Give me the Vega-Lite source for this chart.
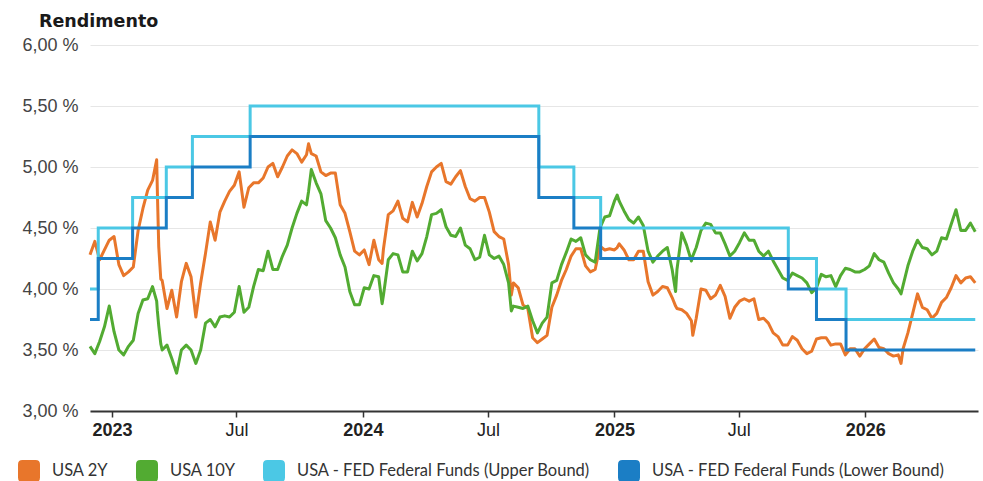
{
"$schema": "https://vega.github.io/schema/vega-lite/v6.json",
"width": 888,
"height": 366,
"autosize": {"type": "none"},
"padding": {"left": 90, "top": 45, "right": 5, "bottom": 70},
"background": "white",
"config": {"view": {"stroke": null}},
"title": {"text": "Rendimento", "anchor": "start", "frame": "group", "font": "DejaVu Sans", "fontSize": 17.5, "fontWeight": "bold", "color": "#1a1a1a", "dx": -51, "offset": 6},
"datasets": {
"yields": [
{"d":"2022-11-30","y2":4.28,"y10":3.53},
{"d":"2022-12-07","y2":4.39,"y10":3.47},
{"d":"2022-12-14","y2":4.24,"y10":3.57},
{"d":"2022-12-21","y2":4.32,"y10":3.69},
{"d":"2022-12-28","y2":4.40,"y10":3.86},
{"d":"2023-01-04","y2":4.43,"y10":3.65},
{"d":"2023-01-11","y2":4.20,"y10":3.50},
{"d":"2023-01-18","y2":4.11,"y10":3.46},
{"d":"2023-01-25","y2":4.14,"y10":3.53},
{"d":"2023-02-01","y2":4.18,"y10":3.58},
{"d":"2023-02-08","y2":4.48,"y10":3.80},
{"d":"2023-02-15","y2":4.66,"y10":3.91},
{"d":"2023-02-22","y2":4.81,"y10":3.92},
{"d":"2023-03-01","y2":4.89,"y10":4.02},
{"d":"2023-03-07","y2":5.06,"y10":3.90},
{"d":"2023-03-08","y2":4.80,"y10":3.82},
{"d":"2023-03-10","y2":4.35,"y10":3.70},
{"d":"2023-03-13","y2":4.08,"y10":3.55},
{"d":"2023-03-15","y2":4.07,"y10":3.50},
{"d":"2023-03-22","y2":3.84,"y10":3.54},
{"d":"2023-03-29","y2":3.99,"y10":3.43},
{"d":"2023-04-05","y2":3.77,"y10":3.31},
{"d":"2023-04-12","y2":4.06,"y10":3.50},
{"d":"2023-04-19","y2":4.21,"y10":3.54},
{"d":"2023-04-26","y2":4.10,"y10":3.50},
{"d":"2023-05-03","y2":3.77,"y10":3.39},
{"d":"2023-05-10","y2":4.05,"y10":3.50},
{"d":"2023-05-17","y2":4.29,"y10":3.72},
{"d":"2023-05-24","y2":4.55,"y10":3.75},
{"d":"2023-05-31","y2":4.40,"y10":3.69},
{"d":"2023-06-07","y2":4.63,"y10":3.77},
{"d":"2023-06-14","y2":4.72,"y10":3.78},
{"d":"2023-06-21","y2":4.80,"y10":3.77},
{"d":"2023-06-28","y2":4.85,"y10":3.81},
{"d":"2023-07-05","y2":4.96,"y10":4.02},
{"d":"2023-07-12","y2":4.67,"y10":3.81},
{"d":"2023-07-19","y2":4.83,"y10":3.85},
{"d":"2023-07-26","y2":4.87,"y10":4.02},
{"d":"2023-08-02","y2":4.87,"y10":4.16},
{"d":"2023-08-09","y2":4.91,"y10":4.15},
{"d":"2023-08-16","y2":5.00,"y10":4.31},
{"d":"2023-08-23","y2":5.03,"y10":4.16},
{"d":"2023-08-30","y2":4.92,"y10":4.16},
{"d":"2023-09-06","y2":5.00,"y10":4.27},
{"d":"2023-09-13","y2":5.09,"y10":4.36},
{"d":"2023-09-20","y2":5.14,"y10":4.50},
{"d":"2023-09-27","y2":5.11,"y10":4.62},
{"d":"2023-10-04","y2":5.04,"y10":4.72},
{"d":"2023-10-11","y2":5.10,"y10":4.69},
{"d":"2023-10-14","y2":5.19,"y10":4.80},
{"d":"2023-10-18","y2":5.11,"y10":4.98},
{"d":"2023-10-25","y2":5.09,"y10":4.87},
{"d":"2023-11-01","y2":4.96,"y10":4.78},
{"d":"2023-11-08","y2":4.93,"y10":4.56},
{"d":"2023-11-15","y2":4.95,"y10":4.50},
{"d":"2023-11-22","y2":4.95,"y10":4.42},
{"d":"2023-11-29","y2":4.69,"y10":4.28},
{"d":"2023-12-06","y2":4.62,"y10":4.18},
{"d":"2023-12-13","y2":4.47,"y10":3.98},
{"d":"2023-12-20","y2":4.31,"y10":3.87},
{"d":"2023-12-27","y2":4.28,"y10":3.87},
{"d":"2024-01-03","y2":4.32,"y10":4.01},
{"d":"2024-01-10","y2":4.20,"y10":4.00},
{"d":"2024-01-17","y2":4.40,"y10":4.11},
{"d":"2024-01-24","y2":4.24,"y10":4.10},
{"d":"2024-01-29","y2":4.21,"y10":3.88},
{"d":"2024-01-31","y2":4.33,"y10":3.95},
{"d":"2024-02-07","y2":4.61,"y10":4.24},
{"d":"2024-02-14","y2":4.64,"y10":4.29},
{"d":"2024-02-21","y2":4.72,"y10":4.28},
{"d":"2024-02-28","y2":4.58,"y10":4.14},
{"d":"2024-03-06","y2":4.55,"y10":4.14},
{"d":"2024-03-13","y2":4.71,"y10":4.31},
{"d":"2024-03-20","y2":4.59,"y10":4.23},
{"d":"2024-03-27","y2":4.70,"y10":4.29},
{"d":"2024-04-03","y2":4.84,"y10":4.43},
{"d":"2024-04-10","y2":4.96,"y10":4.61},
{"d":"2024-04-17","y2":5.00,"y10":4.62},
{"d":"2024-04-24","y2":5.03,"y10":4.65},
{"d":"2024-05-01","y2":4.88,"y10":4.51},
{"d":"2024-05-08","y2":4.86,"y10":4.44},
{"d":"2024-05-15","y2":4.92,"y10":4.43},
{"d":"2024-05-22","y2":4.97,"y10":4.50},
{"d":"2024-05-29","y2":4.84,"y10":4.36},
{"d":"2024-06-05","y2":4.74,"y10":4.33},
{"d":"2024-06-12","y2":4.72,"y10":4.24},
{"d":"2024-06-19","y2":4.75,"y10":4.26},
{"d":"2024-06-26","y2":4.75,"y10":4.44},
{"d":"2024-07-03","y2":4.63,"y10":4.28},
{"d":"2024-07-10","y2":4.47,"y10":4.25},
{"d":"2024-07-17","y2":4.43,"y10":4.27},
{"d":"2024-07-24","y2":4.41,"y10":4.20},
{"d":"2024-07-31","y2":4.20,"y10":4.05},
{"d":"2024-08-04","y2":3.95,"y10":3.82},
{"d":"2024-08-07","y2":4.05,"y10":3.86},
{"d":"2024-08-14","y2":4.01,"y10":3.85},
{"d":"2024-08-21","y2":3.87,"y10":3.84},
{"d":"2024-08-28","y2":3.84,"y10":3.86},
{"d":"2024-09-04","y2":3.60,"y10":3.74},
{"d":"2024-09-11","y2":3.56,"y10":3.64},
{"d":"2024-09-18","y2":3.59,"y10":3.72},
{"d":"2024-09-25","y2":3.62,"y10":3.77},
{"d":"2024-10-02","y2":3.85,"y10":4.05},
{"d":"2024-10-09","y2":3.95,"y10":4.07},
{"d":"2024-10-16","y2":4.07,"y10":4.20},
{"d":"2024-10-23","y2":4.16,"y10":4.30},
{"d":"2024-10-30","y2":4.27,"y10":4.41},
{"d":"2024-11-06","y2":4.33,"y10":4.39},
{"d":"2024-11-13","y2":4.33,"y10":4.42},
{"d":"2024-11-20","y2":4.19,"y10":4.28},
{"d":"2024-11-27","y2":4.14,"y10":4.24},
{"d":"2024-12-04","y2":4.16,"y10":4.22},
{"d":"2024-12-11","y2":4.35,"y10":4.50},
{"d":"2024-12-18","y2":4.32,"y10":4.59},
{"d":"2024-12-25","y2":4.33,"y10":4.60},
{"d":"2025-01-01","y2":4.32,"y10":4.72},
{"d":"2025-01-05","y2":4.34,"y10":4.77},
{"d":"2025-01-08","y2":4.37,"y10":4.72},
{"d":"2025-01-15","y2":4.32,"y10":4.64},
{"d":"2025-01-22","y2":4.24,"y10":4.57},
{"d":"2025-01-29","y2":4.24,"y10":4.54},
{"d":"2025-02-05","y2":4.31,"y10":4.59},
{"d":"2025-02-12","y2":4.31,"y10":4.52},
{"d":"2025-02-19","y2":4.06,"y10":4.31},
{"d":"2025-02-26","y2":3.95,"y10":4.22},
{"d":"2025-03-05","y2":3.98,"y10":4.27},
{"d":"2025-03-12","y2":4.02,"y10":4.31},
{"d":"2025-03-19","y2":4.01,"y10":4.34},
{"d":"2025-03-26","y2":3.93,"y10":4.16},
{"d":"2025-03-31","y2":3.86,"y10":3.98},
{"d":"2025-04-02","y2":3.84,"y10":4.16},
{"d":"2025-04-09","y2":3.83,"y10":4.46},
{"d":"2025-04-16","y2":3.80,"y10":4.36},
{"d":"2025-04-23","y2":3.74,"y10":4.23},
{"d":"2025-04-25","y2":3.62,"y10":4.27},
{"d":"2025-04-30","y2":3.76,"y10":4.34},
{"d":"2025-05-07","y2":4.00,"y10":4.48},
{"d":"2025-05-14","y2":3.99,"y10":4.54},
{"d":"2025-05-21","y2":3.92,"y10":4.53},
{"d":"2025-05-28","y2":3.95,"y10":4.46},
{"d":"2025-06-04","y2":4.03,"y10":4.46},
{"d":"2025-06-11","y2":3.94,"y10":4.37},
{"d":"2025-06-18","y2":3.76,"y10":4.27},
{"d":"2025-06-25","y2":3.85,"y10":4.31},
{"d":"2025-07-02","y2":3.90,"y10":4.38},
{"d":"2025-07-09","y2":3.92,"y10":4.46},
{"d":"2025-07-16","y2":3.90,"y10":4.40},
{"d":"2025-07-23","y2":3.92,"y10":4.40},
{"d":"2025-07-30","y2":3.75,"y10":4.31},
{"d":"2025-08-06","y2":3.76,"y10":4.27},
{"d":"2025-08-13","y2":3.72,"y10":4.31},
{"d":"2025-08-20","y2":3.64,"y10":4.23},
{"d":"2025-08-27","y2":3.61,"y10":4.16},
{"d":"2025-09-03","y2":3.54,"y10":4.09},
{"d":"2025-09-10","y2":3.54,"y10":4.07},
{"d":"2025-09-17","y2":3.61,"y10":4.13},
{"d":"2025-09-24","y2":3.58,"y10":4.11},
{"d":"2025-10-01","y2":3.51,"y10":4.09},
{"d":"2025-10-08","y2":3.47,"y10":4.05},
{"d":"2025-10-15","y2":3.49,"y10":3.97},
{"d":"2025-10-22","y2":3.59,"y10":4.01},
{"d":"2025-10-29","y2":3.60,"y10":4.12},
{"d":"2025-11-05","y2":3.60,"y10":4.10},
{"d":"2025-11-12","y2":3.54,"y10":4.11},
{"d":"2025-11-19","y2":3.55,"y10":4.02},
{"d":"2025-11-26","y2":3.55,"y10":4.11},
{"d":"2025-12-03","y2":3.46,"y10":4.17},
{"d":"2025-12-10","y2":3.51,"y10":4.16},
{"d":"2025-12-17","y2":3.51,"y10":4.14},
{"d":"2025-12-24","y2":3.45,"y10":4.14},
{"d":"2025-12-31","y2":3.51,"y10":4.16},
{"d":"2026-01-07","y2":3.55,"y10":4.19},
{"d":"2026-01-14","y2":3.59,"y10":4.29},
{"d":"2026-01-21","y2":3.52,"y10":4.24},
{"d":"2026-01-28","y2":3.51,"y10":4.22},
{"d":"2026-02-04","y2":3.47,"y10":4.13},
{"d":"2026-02-11","y2":3.45,"y10":4.05},
{"d":"2026-02-18","y2":3.46,"y10":4.00},
{"d":"2026-02-22","y2":3.39,"y10":3.96},
{"d":"2026-02-25","y2":3.51,"y10":4.03},
{"d":"2026-03-04","y2":3.64,"y10":4.19},
{"d":"2026-03-11","y2":3.80,"y10":4.31},
{"d":"2026-03-18","y2":3.96,"y10":4.40},
{"d":"2026-03-25","y2":3.85,"y10":4.34},
{"d":"2026-04-01","y2":3.83,"y10":4.33},
{"d":"2026-04-08","y2":3.76,"y10":4.28},
{"d":"2026-04-15","y2":3.80,"y10":4.31},
{"d":"2026-04-22","y2":3.89,"y10":4.42},
{"d":"2026-04-29","y2":3.93,"y10":4.41},
{"d":"2026-05-06","y2":4.01,"y10":4.53},
{"d":"2026-05-13","y2":4.11,"y10":4.65},
{"d":"2026-05-20","y2":4.05,"y10":4.48},
{"d":"2026-05-27","y2":4.09,"y10":4.48},
{"d":"2026-06-03","y2":4.10,"y10":4.54},
{"d":"2026-06-10","y2":4.05,"y10":4.47}
],
"fed": [
{"d":"2022-11-30","up":4.00,"lo":3.75},
{"d":"2022-12-12","up":4.50,"lo":4.25},
{"d":"2023-01-31","up":4.75,"lo":4.50},
{"d":"2023-03-21","up":5.00,"lo":4.75},
{"d":"2023-04-28","up":5.25,"lo":5.00},
{"d":"2023-07-21","up":5.50,"lo":5.25},
{"d":"2024-09-13","up":5.00,"lo":4.75},
{"d":"2024-11-03","up":4.75,"lo":4.50},
{"d":"2024-12-12","up":4.50,"lo":4.25},
{"d":"2025-09-11","up":4.25,"lo":4.00},
{"d":"2025-10-22","up":4.00,"lo":3.75},
{"d":"2025-12-04","up":3.75,"lo":3.50},
{"d":"2026-06-10","up":3.75,"lo":3.50}
]
},
"encoding": {
"x": {"field": "d", "type": "temporal",
 "scale": {"type": "utc", "domain": [{"year": 2022, "month": 11, "date": 30, "utc": true}, {"year": 2026, "month": 6, "date": 14, "utc": true}]},
 "axis": {"title": null, "grid": false, "tickCount": {"interval": "month", "step": 6},
  "labelExpr": "utcmonth(datum.value) == 0 ? utcFormat(datum.value, '%Y') : utcFormat(datum.value, '%b')",
  "labelFontWeight": {"condition": {"test": "utcmonth(datum.value) == 0", "value": "bold"}, "value": "normal"},
  "labelFont": "Liberation Sans", "labelFontSize": 18, "labelColor": "#222222", "labelPadding": 4,
  "domainColor": "#333333", "domainWidth": 2, "tickColor": "#333333", "tickWidth": 1.5, "tickSize": 6,
  "labelOverlap": false, "labelFlush": false}},
"y": {"field": "value", "type": "quantitative",
 "scale": {"domain": [3, 6], "nice": false, "zero": false},
 "axis": {"title": null, "values": [3, 3.5, 4, 4.5, 5, 5.5, 6],
  "labelExpr": "replace(format(datum.value, '.2f'), '.', ',') + ' %'",
  "domain": false, "ticks": false, "grid": true, "gridColor": "#e6e6e6", "gridWidth": 1,
  "labelFont": "Liberation Sans", "labelFontSize": 18, "labelColor": "#444444", "labelPadding": 12}},
"color": {"field": "key", "type": "nominal",
 "scale": {"domain": ["y2", "y10", "up", "lo"], "range": ["#E8762B", "#52AB32", "#4BC8E5", "#1B7EC5"]},
 "legend": {"orient": "none", "legendX": -72, "legendY": 415, "direction": "horizontal", "title": null,
  "symbolType": "M-1,-0.6Q-1,-1,-0.6,-1L0.6,-1Q1,-1,1,-0.6L1,0.6Q1,1,0.6,1L-0.6,1Q-1,1,-1,0.6Z",
  "symbolSize": 484, "symbolStrokeWidth": 0, "labelFont": "Lato", "labelFontSize": 16.5, "labelColor": "#333333",
  "labelOffset": 12, "columnPadding": 27, "labelLimit": 0,
  "labelExpr": "datum.label == 'y2' ? 'USA 2Y' : datum.label == 'y10' ? 'USA 10Y' : datum.label == 'up' ? 'USA - FED Federal Funds (Upper Bound)' : 'USA - FED Federal Funds (Lower Bound)'",
  "encode": {"symbols": {"update": {"fill": {"scale": "color", "field": "value"}, "stroke": {"value": "transparent"}, "opacity": {"value": 1}}}}}}
},
"layer": [
 {"data": {"name": "yields"}, "transform": [{"fold": ["y2", "y10"]}], "mark": {"type": "line", "strokeWidth": 3, "strokeJoin": "round"}},
 {"data": {"name": "fed"}, "transform": [{"fold": ["up", "lo"]}], "mark": {"type": "line", "strokeWidth": 3, "interpolate": "step-after"}}
]
}
